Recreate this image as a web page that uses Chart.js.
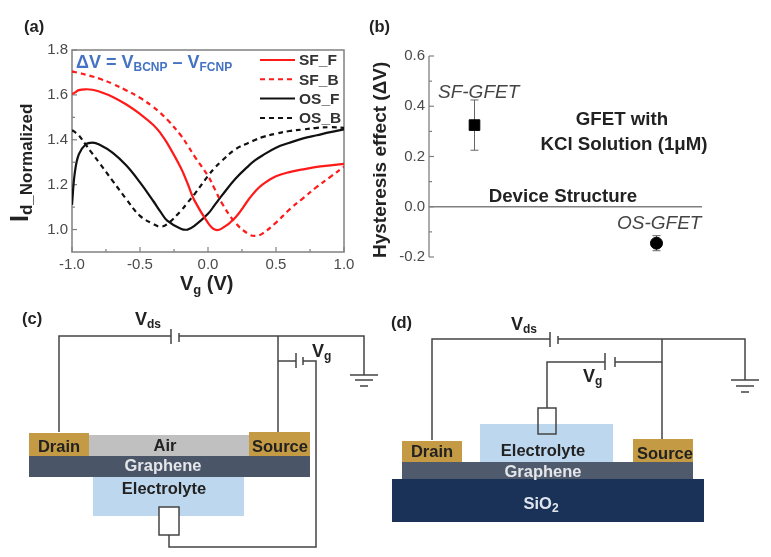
<!DOCTYPE html>
<html>
<head>
<meta charset="utf-8">
<title>GFET hysteresis</title>
<script src="https://cdn.jsdelivr.net/npm/chart.js@4"></script>
<style>
  html, body { margin: 0; padding: 0; background: #fff; }
  #page { position: relative; width: 771px; height: 557px; overflow: hidden; filter: blur(0.6px); }
  canvas { position: absolute; }
  #curves { left: 0; top: 30px; }
  #effect { left: 360px; top: 30px; }
  svg { position: absolute; left: 0; top: 0; font-family: "Liberation Sans", Arial, sans-serif; }
  .wire { fill: none; stroke: #444; stroke-width: 1.5; }
  .lab { font-weight: bold; font-size: 16.5px; fill: #222; text-anchor: middle; }
  .note { font-weight: bold; font-size: 18.7px; fill: #222; text-anchor: middle; }
  .dev { font-style: italic; font-size: 19px; fill: #444; }
  .pan { font-weight: bold; font-size: 16.5px; fill: #222; }
  .big { font-weight: bold; font-size: 18px; fill: #222; }
  .sub { font-size: 12px; }
</style>
</head>
<body>
<div id="page">
  <canvas id="curves" width="360" height="260"></canvas>
  <canvas id="effect" width="360" height="240"></canvas>
  <svg width="771" height="557">
    <text class="pan" x="24" y="32">(a)</text>
    <text class="pan" x="369" y="32">(b)</text>
    <text class="pan" x="22" y="324">(c)</text>
    <text class="pan" x="391" y="328">(d)</text>

    <text x="76" y="68" font-weight="bold" font-size="18" fill="#4472c4">ΔV = V<tspan font-size="12" dy="3">BCNP</tspan><tspan dy="-3"> – V</tspan><tspan font-size="12" dy="3">FCNP</tspan></text>
    <text transform="translate(28,222) rotate(-90)" font-weight="bold" font-size="25" fill="#222">I<tspan font-size="17" dy="4">d_Normalized</tspan></text>
    <text x="180" y="290" font-weight="bold" font-size="20" fill="#222">V<tspan font-size="13" dy="4">g</tspan><tspan dy="-4"> (V)</tspan></text>

    <text transform="translate(386,258) rotate(-90)" font-weight="bold" font-size="19" fill="#222">Hysteresis effect (ΔV)</text>
    <text class="dev" x="438" y="98">SF-GFET</text>
    <text class="dev" x="617" y="229">OS-GFET</text>
    <text class="note" x="622" y="125">GFET with</text>
    <text class="note" x="624" y="150">KCl Solution (1μM)</text>
    <text class="note" x="563" y="202">Device Structure</text>

    <!-- (c) air top, electrolyte below -->
    <rect x="89" y="435" width="160" height="21" fill="#c0c0c0"/>
    <rect x="29" y="433" width="60" height="24" fill="#c49a45"/>
    <rect x="249" y="432" width="61" height="25" fill="#c49a45"/>
    <rect x="29" y="456" width="281" height="21" fill="#4a5568"/>
    <rect x="93" y="477" width="151" height="39" fill="#bdd7ee"/>
    <path class="wire" d="M59 432V336H171M179 336H364V375M278 336V432M278 361H296M303 361H316V547H169V535"/>
    <path class="wire" d="M171 329V344M179 333V342M296 353V368M303 357V365M350 375H378M355 380H373M360 386H368"/>
    <rect class="wire" x="159" y="507" width="20" height="28" style="fill:#fff"/>
    <text class="lab" x="59" y="452">Drain</text>
    <text class="lab" x="165" y="451">Air</text>
    <text class="lab" x="280" y="452">Source</text>
    <text class="lab" x="163" y="471" style="fill:#e4e6ea">Graphene</text>
    <text class="lab" x="164" y="494">Electrolyte</text>
    <text class="big" x="135" y="325">V<tspan class="sub" dy="3">ds</tspan></text>
    <text class="big" x="312" y="357">V<tspan class="sub" dy="3">g</tspan></text>

    <!-- (d) electrolyte on top, SiO2 below -->
    <rect x="480" y="424" width="133" height="38" fill="#bdd7ee"/>
    <rect x="402" y="441" width="60" height="21" fill="#c49a45"/>
    <rect x="633" y="439" width="60" height="23" fill="#c49a45"/>
    <rect x="402" y="462" width="291" height="17" fill="#4f5b6d"/>
    <rect x="392" y="479" width="312" height="43" fill="#1a3258"/>
    <path class="wire" d="M432 440V339H550M558 339H745V380M662 339V439M662 362H615M605 362H547V408"/>
    <path class="wire" d="M550 332V347M558 336V344M615 357V367M605 353V370M731 380H759M736 386H754M741 392H749"/>
    <rect class="wire" x="538" y="408" width="18" height="26"/>
    <text class="lab" x="432" y="457">Drain</text>
    <text class="lab" x="665" y="459">Source</text>
    <text class="lab" x="543" y="456">Electrolyte</text>
    <text class="lab" x="543" y="477" style="fill:#e4e6ea">Graphene</text>
    <text class="lab" x="541" y="509" style="fill:#dfe5ee">SiO<tspan class="sub" dy="3">2</tspan></text>
    <text class="big" x="511" y="330">V<tspan class="sub" dy="3">ds</tspan></text>
    <text class="big" x="583" y="382">V<tspan class="sub" dy="3">g</tspan></text>
  </svg>
</div>

<script>
// panel (a), normalized drain current against gate voltage
const vg = [-1, -0.98, -0.95, -0.9, -0.85, -0.8, -0.7, -0.6, -0.5, -0.4, -0.35, -0.3, -0.2, -0.15, -0.1, 0, 0.05, 0.1, 0.2, 0.3, 0.35, 0.4, 0.5, 0.6, 0.7, 0.8, 0.9, 1];
const sfForward = [1.604, 1.61, 1.621, 1.625, 1.623, 1.615, 1.591, 1.557, 1.515, 1.465, 1.43, 1.385, 1.275, 1.205, 1.13, 1.03, 1.0, 1.004, 1.053, 1.135, 1.172, 1.2, 1.237, 1.256, 1.268, 1.279, 1.286, 1.293];
const sfBackward = [1.705, 1.702, 1.698, 1.69, 1.682, 1.673, 1.649, 1.62, 1.587, 1.545, 1.519, 1.49, 1.42, 1.375, 1.327, 1.239, 1.18, 1.12, 1.031, 0.979, 0.972, 0.982, 1.031, 1.09, 1.14, 1.19, 1.235, 1.28];
const osForward = [1.11, 1.25, 1.335, 1.379, 1.387, 1.379, 1.342, 1.285, 1.21, 1.125, 1.08, 1.04, 1.004, 1.0, 1.016, 1.07, 1.11, 1.15, 1.225, 1.285, 1.31, 1.33, 1.365, 1.387, 1.406, 1.42, 1.434, 1.446];
const osBackward = [1.443, 1.435, 1.42, 1.379, 1.338, 1.298, 1.216, 1.135, 1.061, 1.024, 1.013, 1.024, 1.083, 1.12, 1.157, 1.239, 1.275, 1.305, 1.357, 1.387, 1.4, 1.412, 1.427, 1.439, 1.446, 1.453, 1.456, 1.453];

// panel (b), hysteresis per device
const devices = ['SF-GFET', 'OS-GFET'];
const devicePos = [1, 2];
const hysteresis = [0.325, -0.145];
const hysteresisErr = [0.1, 0.03];

const axisGrey = '#808080';
const tickText = '#4a4a4a';
const fontFamily = '"Liberation Sans", Arial, sans-serif';

function toXY(ys) {
  return ys.map((y, i) => ({ x: vg[i], y }));
}

function curve(label, ys, color, dash) {
  return {
    label,
    data: toXY(ys),
    borderColor: color,
    borderWidth: 2.2,
    borderDash: dash,
    pointRadius: 0,
    tension: 0.4,
  };
}

// inward major and minor ticks, chart.js only has one tick length
function drawTicks(ctx, scale, area, horizontal) {
  const majors = scale.ticks.map(t => t.value);
  const step = majors[1] - majors[0];
  ctx.strokeStyle = axisGrey;
  ctx.lineWidth = 1.2;
  majors.forEach(v => {
    [v, v + step / 2].forEach((t, n) => {
      if (t > scale.max + 1e-6) return;
      const len = n === 0 ? 5 : 3;
      const p = scale.getPixelForValue(t);
      ctx.beginPath();
      if (horizontal) {
        ctx.moveTo(p, area.bottom);
        ctx.lineTo(p, area.bottom - len);
      } else {
        ctx.moveTo(area.left, p);
        ctx.lineTo(area.left + len, p);
      }
      ctx.stroke();
    });
  });
}

const framePlugin = {
  id: 'frame',
  beforeDatasetsDraw(chart) {
    const { ctx, chartArea: a, scales } = chart;
    ctx.save();
    ctx.strokeStyle = axisGrey;
    ctx.lineWidth = 1.5;
    ctx.strokeRect(a.left, a.top, a.right - a.left, a.bottom - a.top);
    drawTicks(ctx, scales.x, a, true);
    drawTicks(ctx, scales.y, a, false);
    ctx.restore();
  },
};

// legend sits inside the plot at a fixed place, so draw it from the datasets
const keyPlugin = {
  id: 'key',
  afterDatasetsDraw(chart) {
    const { ctx } = chart;
    ctx.save();
    ctx.font = 'bold 15.5px ' + fontFamily;
    ctx.textBaseline = 'middle';
    chart.data.datasets.forEach((ds, i) => {
      const y = 30 + i * 19.3;
      ctx.strokeStyle = ds.borderColor;
      ctx.lineWidth = 2;
      ctx.setLineDash(ds.borderDash);
      ctx.beginPath();
      ctx.moveTo(260, y);
      ctx.lineTo(295, y);
      ctx.stroke();
      ctx.fillStyle = '#333';
      ctx.fillText(ds.label, 299, y + 1);
    });
    ctx.restore();
  },
};

const errorPlugin = {
  id: 'errorBars',
  beforeDatasetsDraw(chart) {
    const { ctx, scales } = chart;
    ctx.save();
    ctx.strokeStyle = '#666';
    ctx.lineWidth = 1;
    devicePos.forEach((d, i) => {
      const x = scales.x.getPixelForValue(d);
      const top = scales.y.getPixelForValue(hysteresis[i] + hysteresisErr[i]);
      const bottom = scales.y.getPixelForValue(hysteresis[i] - hysteresisErr[i]);
      ctx.beginPath();
      ctx.moveTo(x, top);
      ctx.lineTo(x, bottom);
      ctx.moveTo(x - 4, top);
      ctx.lineTo(x + 4, top);
      ctx.moveTo(x - 4, bottom);
      ctx.lineTo(x + 4, bottom);
      ctx.stroke();
    });
    ctx.restore();
  },
};

const effectAxisPlugin = {
  id: 'effectAxis',
  beforeDatasetsDraw(chart) {
    const { ctx, chartArea: a, scales } = chart;
    const zero = scales.y.getPixelForValue(0);
    ctx.save();
    ctx.strokeStyle = axisGrey;
    ctx.lineWidth = 1.3;
    ctx.beginPath();
    ctx.moveTo(a.left, a.top);
    ctx.lineTo(a.left, a.bottom);
    ctx.moveTo(a.left, zero);
    ctx.lineTo(a.right, zero);
    ctx.stroke();
    drawTicks(ctx, scales.y, a, false);
    ctx.restore();
  },
};

new Chart(document.getElementById('curves').getContext('2d'), {
  type: 'line',
  data: {
    datasets: [
      curve('SF_F', sfForward, '#ff1a1a', []),
      curve('SF_B', sfBackward, '#ff1a1a', [5, 4]),
      curve('OS_F', osForward, '#111111', []),
      curve('OS_B', osBackward, '#111111', [5, 4]),
    ],
  },
  options: {
    responsive: false,
    animation: false,
    layout: { padding: { left: 32, top: 20, right: 16, bottom: 8 } },
    plugins: { legend: { display: false }, tooltip: { enabled: false } },
    scales: {
      x: {
        type: 'linear',
        min: -1,
        max: 1,
        afterFit(scale) { scale.height = 30; },
        grid: { display: false, drawTicks: false },
        border: { display: false },
        ticks: {
          stepSize: 0.5,
          padding: 4,
          maxRotation: 0,
          color: tickText,
          font: { family: fontFamily, size: 15 },
          callback: v => v.toFixed(1),
        },
      },
      y: {
        min: 0.9,
        max: 1.8,
        afterFit(scale) { scale.width = 40; },
        afterBuildTicks(scale) {
          scale.ticks = [1, 1.2, 1.4, 1.6, 1.8].map(value => ({ value }));
        },
        grid: { display: false, drawTicks: false },
        border: { display: false },
        ticks: {
          padding: 4,
          color: tickText,
          font: { family: fontFamily, size: 15 },
          callback: v => v.toFixed(1),
        },
      },
    },
  },
  plugins: [framePlugin, keyPlugin],
});

new Chart(document.getElementById('effect').getContext('2d'), {
  type: 'scatter',
  data: {
    datasets: [
      {
        label: devices[0],
        data: [{ x: devicePos[0], y: hysteresis[0] }],
        pointStyle: 'rect',
        pointRadius: 7.5,
        backgroundColor: '#000',
        borderColor: '#000',
      },
      {
        label: devices[1],
        data: [{ x: devicePos[1], y: hysteresis[1] }],
        pointStyle: 'circle',
        pointRadius: 6,
        backgroundColor: '#000',
        borderColor: '#000',
      },
    ],
  },
  options: {
    responsive: false,
    animation: false,
    layout: { padding: { left: 29, top: 26, right: 18, bottom: 12 } },
    plugins: { legend: { display: false }, tooltip: { enabled: false } },
    scales: {
      x: {
        type: 'linear',
        min: 0.75,
        max: 2.25,
        display: false,
      },
      y: {
        min: -0.2,
        max: 0.6,
        afterFit(scale) { scale.width = 40; },
        grid: { display: false, drawTicks: false },
        border: { display: false },
        ticks: {
          stepSize: 0.2,
          padding: 4,
          color: tickText,
          font: { family: fontFamily, size: 15 },
          callback: v => v.toFixed(1),
        },
      },
    },
  },
  plugins: [effectAxisPlugin, errorPlugin],
});
</script>
</body>
</html>
